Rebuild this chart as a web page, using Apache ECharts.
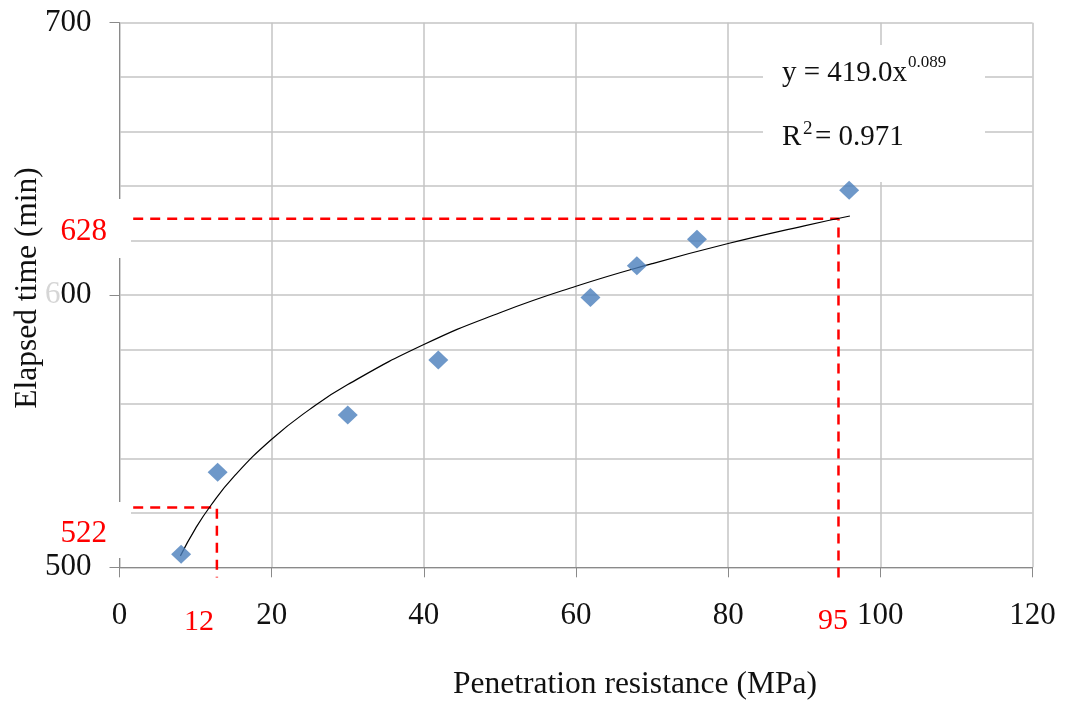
<!DOCTYPE html>
<html>
<head>
<meta charset="utf-8">
<script src="https://cdn.jsdelivr.net/npm/echarts@6/dist/echarts.min.js"></script>
<style>
    html, body { margin: 0; background: #fff; }
    #chart { width: 1067px; height: 707px; }
</style>
</head>
<body>
<div id="chart"></div>
<script>
// measured points (penetration resistance in MPa vs elapsed time in min)
const resistance = [8.1, 12.9, 30.0, 41.9, 61.9, 68.0, 75.9, 95.9];
const elapsed = [504.8, 534.9, 555.9, 576.1, 599.1, 610.7, 620.5, 638.5];

// power trend line
const fitX = [8, 10, 12, 15, 20, 25, 30, 40, 50, 60, 70, 80, 90, 96];
const fitY = [504.2, 514.3, 522.7, 533.2, 547.0, 558.0, 567.1, 581.8, 593.5, 603.2, 611.5, 618.9, 625.4, 629.0];

// red dashed read-off guides
const guideHiX = [1.8, 94.5, 94.5];
const guideHiY = [628, 628, 496.3];
const guideLoX = [1.8, 12.8, 12.8];
const guideLoY = [522, 522, 496.3];

const xName = "Penetration resistance (MPa)";
const yName = "Elapsed time (min)";
const equation = ["y = 419.0x", "0.089", "R", "2", "= 0.971"];
const readLabels = ["628", "522", "12", "95"];

const FONT = "'Liberation Serif', 'Times New Roman', serif";
const TXT = "#111";
const GRID = "#c4c4c4";
const AXIS = "#8a8a8a";
const RED = "#ff0000";

const zip = (xs, ys) => xs.map((x, i) => [x, ys[i]]);

const chart = echarts.init(document.getElementById("chart"));

const dashed = { color: RED, width: 2.5, type: [10, 7] };

chart.setOption({
    backgroundColor: "#fff",
    animation: false,
    grid: { left: 119.5, right: 34.5, top: 22.7, bottom: 139.7, outerBoundsMode: "none", containLabel: false },
    xAxis: {
        type: "value",
        min: 0,
        max: 120,
        interval: 20,
        name: xName,
        nameLocation: "middle",
        nameGap: 101,
        nameMoveOverlap: false,
        nameTextStyle: { fontFamily: FONT, fontSize: 31.5, color: TXT, padding: [0, 0, 0, 118] },
        axisLine: { show: true, lineStyle: { color: AXIS, width: 1 } },
        axisTick: { show: true, length: 10, lineStyle: { color: AXIS } },
        axisLabel: { fontFamily: FONT, fontSize: 31, color: TXT, margin: 33 },
        splitLine: { show: true, lineStyle: { color: GRID, width: 1.5 } },
    },
    yAxis: [
        {
            type: "value",
            min: 500,
            max: 700,
            interval: 20,
            axisLine: { show: false },
            axisTick: { show: false },
            axisLabel: { show: false },
            splitLine: { show: true, lineStyle: { color: GRID, width: 1.5 } },
        },
        {
            type: "value",
            position: "left",
            min: 500,
            max: 700,
            interval: 100,
            name: yName,
            nameLocation: "middle",
            nameGap: 76,
            nameMoveOverlap: false,
            nameTextStyle: { fontFamily: FONT, fontSize: 31.5, color: TXT, padding: [0, 0, 0, 14] },
            axisLine: { show: true, lineStyle: { color: AXIS, width: 1 } },
            axisTick: { show: true, length: 10, lineStyle: { color: AXIS } },
            axisLabel: {
                fontFamily: FONT,
                fontSize: 31,
                color: TXT,
                margin: 28,
                formatter: (v) => (v === 600 ? "{f|6}00" : String(v)),
                rich: { f: { fontFamily: FONT, fontSize: 31, color: "#d6d6d6" } },
            },
            splitLine: { show: false },
        },
    ],
    series: [
        {
            name: "guide high",
            type: "line",
            data: zip(guideHiX, guideHiY),
            symbol: "none",
            clip: false,
            lineStyle: dashed,
            z: 3,
        },
        {
            name: "guide low",
            type: "line",
            data: zip(guideLoX, guideLoY),
            symbol: "none",
            clip: false,
            lineStyle: dashed,
            z: 3,
        },
        {
            name: "trend",
            type: "line",
            data: zip(fitX, fitY),
            smooth: true,
            symbol: "none",
            lineStyle: { color: "#000", width: 1.2 },
            z: 4,
        },
        {
            name: "measured",
            type: "scatter",
            data: zip(resistance, elapsed),
            symbol: "diamond",
            symbolSize: [20, 19],
            itemStyle: { color: "#4a7ebb" },
            z: 5,
        },
    ],
    graphic: [
        // white text boxes that hide the axis and grid behind them
        { type: "rect", z: 1, shape: { x: 100, y: 199, width: 31, height: 59 }, style: { fill: "#fff" } },
        { type: "rect", z: 1, shape: { x: 100, y: 502, width: 31, height: 56 }, style: { fill: "#fff" } },
        { type: "rect", z: 1, shape: { x: 763, y: 45, width: 222, height: 137 }, style: { fill: "#fff" } },
        { type: "text", z: 6, x: 107, y: 232, style: { text: readLabels[0], font: "31px " + FONT, fill: RED, align: "right", verticalAlign: "middle" } },
        { type: "text", z: 6, x: 107, y: 534, style: { text: readLabels[1], font: "31px " + FONT, fill: RED, align: "right", verticalAlign: "middle" } },
        { type: "text", z: 6, x: 199, y: 622, style: { text: readLabels[2], font: "30px " + FONT, fill: RED, align: "center", verticalAlign: "middle" } },
        { type: "text", z: 6, x: 833, y: 621, style: { text: readLabels[3], font: "30px " + FONT, fill: RED, align: "center", verticalAlign: "middle" } },
        { type: "text", z: 6, x: 782, y: 73, style: { text: equation[0], font: "29px " + FONT, fill: TXT, align: "left", verticalAlign: "middle" } },
        { type: "text", z: 6, x: 908, y: 63, style: { text: equation[1], font: "17px " + FONT, fill: TXT, align: "left", verticalAlign: "middle" } },
        { type: "text", z: 6, x: 782, y: 137, style: { text: equation[2], font: "29px " + FONT, fill: TXT, align: "left", verticalAlign: "middle" } },
        { type: "text", z: 6, x: 803, y: 129, style: { text: equation[3], font: "19px " + FONT, fill: TXT, align: "left", verticalAlign: "middle" } },
        { type: "text", z: 6, x: 815, y: 137, style: { text: equation[4], font: "29px " + FONT, fill: TXT, align: "left", verticalAlign: "middle" } },
    ],
});
</script>
</body>
</html>
